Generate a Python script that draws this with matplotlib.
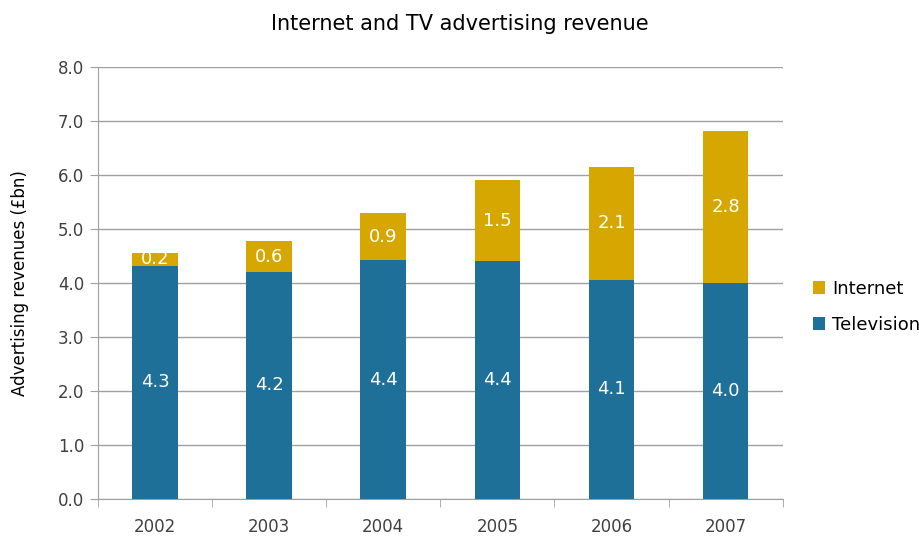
import matplotlib
matplotlib.use("Agg")
import matplotlib.pyplot as plt
import numpy as np

plt.rcParams['font.family'] = ['Liberation Sans Narrow', 'DejaVu Sans']

# Revenue data (£bn)
years = ['2002', '2003', '2004', '2005', '2006', '2007']
television = [4.32, 4.21, 4.42, 4.40, 4.06, 4.00]
internet = [0.24, 0.56, 0.88, 1.51, 2.09, 2.81]

tv_color = '#1f7099'
net_color = '#d6a700'

fig = plt.figure(figsize=(9.19, 5.39), dpi=100)
ax = fig.add_axes([0.1066, 0.0742, 0.745, 0.8015])

x = np.arange(len(years))
w = 0.4
b_tv = ax.bar(x, television, w, color=tv_color, label='Television', zorder=3)
b_net = ax.bar(x, internet, w, bottom=television, color=net_color, label='Internet', zorder=3)

# value labels inside each segment
for i in range(len(years)):
    ax.text(x[i], television[i] / 2, f'{television[i]:.1f}', ha='center', va='center',
            color='white', fontsize=13, zorder=4)
    ax.text(x[i], television[i] + internet[i] / 2, f'{internet[i]:.1f}', ha='center',
            va='center', color='white', fontsize=13, zorder=4)

ax.set_xlim(-0.5, len(years) - 0.5)
ax.set_ylim(0, 8)
ax.set_yticks(np.arange(0, 8.1, 1.0))
ax.set_yticklabels([f'{v:.1f}' for v in np.arange(0, 8.1, 1.0)])
ax.set_xticks(x)
ax.set_xticklabels(years)
ax.set_xticks(np.arange(-0.5, len(years), 1.0), minor=True)
ax.tick_params(axis='x', which='major', length=0, pad=14, labelsize=12, colors='#404040')
ax.tick_params(axis='x', which='minor', length=6, color='#a0a0a0')
ax.tick_params(axis='y', length=6, color='#a0a0a0', labelsize=12, labelcolor='#404040', pad=4)

ax.grid(axis='y', color='#a0a0a0', linewidth=1, zorder=0)
for side in ['top', 'right']:
    ax.spines[side].set_visible(False)
for side in ['left', 'bottom']:
    ax.spines[side].set_color('#a0a0a0')

ax.set_ylabel('Advertising revenues (£bn)', fontsize=12, labelpad=21)
fig.text(0.5, 0.955, 'Internet and TV advertising revenue', ha='center', va='center',
         fontsize=15)

leg = ax.legend(handles=[b_net, b_tv], loc='center left', bbox_to_anchor=(1.02, 0.445),
                frameon=False, fontsize=13, handlelength=0.7, handleheight=0.7,
                handletextpad=0.4, labelspacing=1.0)

fig.savefig('out.png', dpi=100)
